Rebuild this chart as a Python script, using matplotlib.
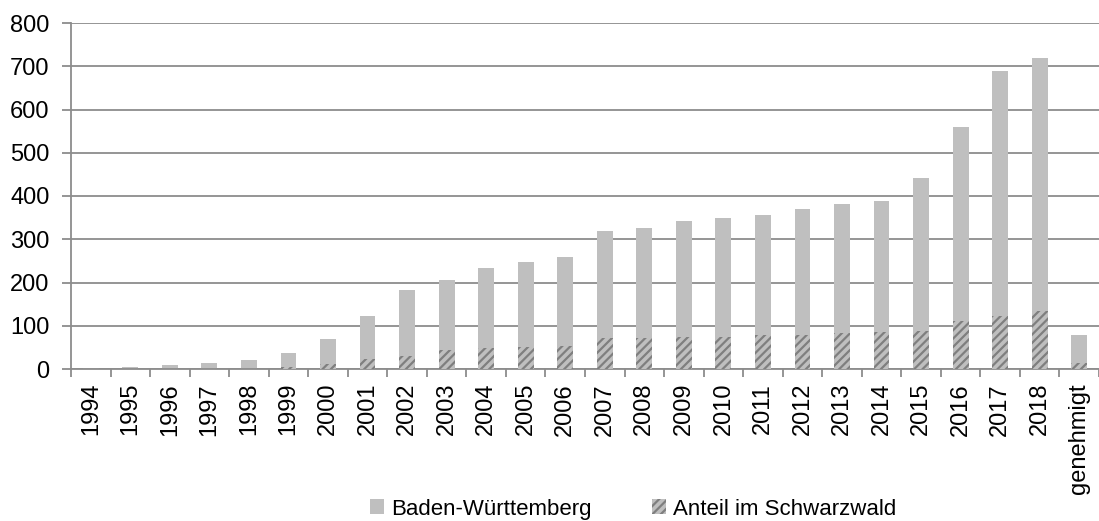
import matplotlib
matplotlib.use("Agg")
import matplotlib.pyplot as plt
from matplotlib.patches import Patch
import numpy as np

plt.rcParams['font.family'] = ['Liberation Sans', 'DejaVu Sans']
plt.rcParams['hatch.linewidth'] = 1.6

categories = ['1994', '1995', '1996', '1997', '1998', '1999', '2000', '2001',
              '2002', '2003', '2004', '2005', '2006', '2007', '2008', '2009',
              '2010', '2011', '2012', '2013', '2014', '2015', '2016', '2017',
              '2018', 'genehmigt']
baden_wuerttemberg = [2, 5, 10, 15, 21, 37, 70, 123, 182, 205, 234, 247, 260,
                      318, 325, 342, 348, 357, 369, 381, 388, 441, 560, 688,
                      719, 79]
schwarzwald = [0, 0, 0, 0, 1, 5, 12, 22, 29, 43, 48, 52, 54, 72, 72, 74, 75,
               78, 79, 83, 85, 89, 110, 123, 133, 15]
y_ticks = [0, 100, 200, 300, 400, 500, 600, 700, 800]

W, H = 1099, 521
fig = plt.figure(figsize=(W / 100, H / 100), dpi=100)
ax = fig.add_axes([71 / W, 1 - 369 / H, (W - 71) / W, (369 - 23) / H])

bar_color = '#BFBFBF'
hatch_color = '#7F7F7F'
grid_color = '#8C8C8C'
x = np.arange(len(categories))

ax.bar(x, baden_wuerttemberg, width=0.4, color=bar_color, linewidth=0, zorder=2)
ax.bar(x, schwarzwald, width=0.4, facecolor=bar_color, edgecolor=hatch_color,
       hatch='////', linewidth=0, zorder=3)

fs = 17
ax.set_ylim(0, 800)
ax.set_xlim(-0.5, 25.25)
ax.set_yticks(y_ticks)
ax.set_yticklabels([str(v) for v in y_ticks], fontsize=fs)
ax.yaxis.grid(True, color=grid_color, linewidth=1.3, zorder=0)
ax.set_axisbelow(True)

ax.set_xticks(x)
ax.set_xticklabels(categories, rotation=90, fontsize=fs, va='top')
ax.tick_params(axis='x', which='major', length=0, pad=10)
ax.set_xticks(np.arange(-0.5, len(categories), 1.0), minor=True)
ax.tick_params(axis='x', which='minor', length=6, width=1.3, color=grid_color,
               direction='out')
ax.tick_params(axis='y', length=6.5, width=1.3, color=grid_color, pad=9)

for side in ('top', 'right'):
    ax.spines[side].set_visible(False)
for side in ('left', 'bottom'):
    ax.spines[side].set_color(grid_color)
    ax.spines[side].set_linewidth(1.3)

handles = [
    Patch(facecolor=bar_color, linewidth=0, label='Baden-Württemberg'),
    Patch(facecolor=bar_color, edgecolor=hatch_color, hatch='////', linewidth=0,
          label='Anteil im Schwarzwald'),
]
fig.legend(handles=handles, loc='center', bbox_to_anchor=(0.576, 0.023),
           ncol=2, frameon=False, fontsize=16, handlelength=0.63,
           handleheight=0.63, handletextpad=0.32, columnspacing=2.7,
           borderaxespad=0, borderpad=0)

fig.savefig('out.png', dpi=100)
